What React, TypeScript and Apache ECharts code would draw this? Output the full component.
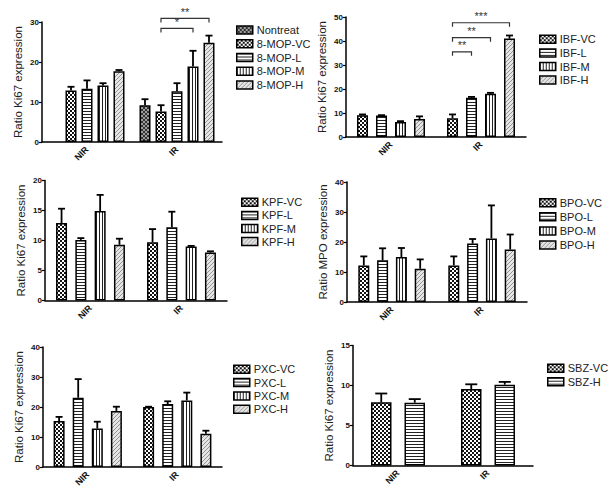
import React, { useEffect, useRef } from 'react';
import * as echarts from 'echarts';

const FONT = '"Liberation Sans", Arial, Helvetica, sans-serif';

const categories = ['NIR', 'IR'];

// Panel A: 8-MOP
const mopNames = ['Nontreat', '8-MOP-VC', '8-MOP-L', '8-MOP-M', '8-MOP-H'];
const mopPatterns = ['cross', 'checker', 'hline', 'vline', 'diag'];
const mopMeans = [[null, 9.2], [12.9, 7.6], [13.3, 12.7], [14.1, 18.9], [17.7, 24.8]];
const mopErrs = [[null, 1.5], [0.9, 1.6], [2.1, 2.0], [0.6, 3.9], [0.3, 1.8]];
// [category, from slot, to slot, y value]
const mopBrackets = [[1, 1, 3, 28.4], [1, 1, 4, 30.9]];
const mopStars = ['*', '**'];

// Panel B: IBF
const ibfNames = ['IBF-VC', 'IBF-L', 'IBF-M', 'IBF-H'];
const ibfPatterns = ['checker', 'hline', 'vline', 'diag'];
const ibfMeans = [[9.1, 7.8], [9.0, 16.4], [6.2, 18.0], [7.5, 41.0]];
const ibfErrs = [[0.3, 1.6], [0.1, 0.3], [0.4, 0.4], [1.1, 1.3]];
const ibfBrackets = [[1, 0, 1, 35.5], [1, 0, 2, 41.4], [1, 0, 3, 47.6]];
const ibfStars = ['**', '**', '***'];

// Panel C: KPF
const kpfNames = ['KPF-VC', 'KPF-L', 'KPF-M', 'KPF-H'];
const kpfPatterns = ['checker', 'hline', 'vline', 'diag'];
const kpfMeans = [[12.9, 9.7], [10.1, 12.2], [14.9, 9.0], [9.3, 8.0]];
const kpfErrs = [[2.4, 2.2], [0.3, 2.6], [2.7, 0.1], [1.0, 0.2]];

// Panel D: BPO
const bpoNames = ['BPO-VC', 'BPO-L', 'BPO-M', 'BPO-H'];
const bpoPatterns = ['checker', 'hline', 'vline', 'diag'];
const bpoMeans = [[12.2, 12.2], [13.9, 19.5], [15.0, 21.2], [11.1, 17.5]];
const bpoErrs = [[3.0, 3.0], [4.0, 1.5], [3.0, 11.0], [3.1, 5.0]];

// Panel E: PXC
const pxcNames = ['PXC-VC', 'PXC-L', 'PXC-M', 'PXC-H'];
const pxcPatterns = ['checker', 'hline', 'vline', 'diag'];
const pxcMeans = [[15.3, 20.0], [23.1, 21.0], [12.8, 22.2], [18.7, 11.1]];
const pxcErrs = [[1.4, 0.1], [6.2, 0.9], [2.3, 2.6], [1.4, 1.0]];

// Panel F: SBZ
const sbzNames = ['SBZ-VC', 'SBZ-H'];
const sbzPatterns = ['checker', 'hline'];
const sbzMeans = [[7.9, 9.55], [7.85, 10.1]];
const sbzErrs = [[1.1, 0.6], [0.45, 0.35]];

type Panel = {
  names: string[];
  patterns: string[];
  means: (number | null)[][];
  errs: (number | null)[][];
  brackets?: number[][];
  stars?: string[];
  yName: string;
  yMax: number;
  interval: number;
  grid: { left: number; top: number; width: number; height: number };
  barWidth: number;
  step: number;
  cap: number;
  legend: { left: number; top: number; gap: number };
};

const panels: Panel[] = [
  {
    names: mopNames, patterns: mopPatterns, means: mopMeans, errs: mopErrs,
    brackets: mopBrackets, stars: mopStars,
    yName: 'Ratio Ki67 expression', yMax: 30, interval: 10,
    grid: { left: 42, top: 22, width: 180, height: 120 },
    barWidth: 11, step: 16, cap: 3.5,
    legend: { left: 236, top: 24.5, gap: 2.75 },
  },
  {
    names: ibfNames, patterns: ibfPatterns, means: ibfMeans, errs: ibfErrs,
    brackets: ibfBrackets, stars: ibfStars,
    yName: 'Ratio Ki67 expression', yMax: 50, interval: 10,
    grid: { left: 346, top: 17, width: 180, height: 120 },
    barWidth: 11, step: 19, cap: 3.5,
    legend: { left: 539, top: 33.8, gap: 2.6 },
  },
  {
    names: kpfNames, patterns: kpfPatterns, means: kpfMeans, errs: kpfErrs,
    yName: 'Ratio Ki67 expression', yMax: 20, interval: 5,
    grid: { left: 45, top: 180.5, width: 182, height: 120 },
    barWidth: 11, step: 19.3, cap: 3.5,
    legend: { left: 241, top: 196.8, gap: 2.1 },
  },
  {
    names: bpoNames, patterns: bpoPatterns, means: bpoMeans, errs: bpoErrs,
    yName: 'Ratio MPO expression', yMax: 40, interval: 10,
    grid: { left: 347, top: 182, width: 180, height: 120 },
    barWidth: 11, step: 18.8, cap: 3.5,
    legend: { left: 539, top: 197.2, gap: 3.1 },
  },
  {
    names: pxcNames, patterns: pxcPatterns, means: pxcMeans, errs: pxcErrs,
    yName: 'Ratio Ki67 expression', yMax: 40, interval: 10,
    grid: { left: 43, top: 347, width: 179, height: 120 },
    barWidth: 11, step: 19.1, cap: 3.5,
    legend: { left: 233, top: 363.8, gap: 2.3 },
  },
  {
    names: sbzNames, patterns: sbzPatterns, means: sbzMeans, errs: sbzErrs,
    yName: 'Ratio Ki67 expression', yMax: 15, interval: 5,
    grid: { left: 353, top: 345.5, width: 180, height: 120 },
    barWidth: 20.5, step: 33.5, cap: 6,
    legend: { left: 547, top: 362.8, gap: 2.4 },
  },
];

function makePattern(kind: string): any {
  const s = kind === 'hline' || kind === 'vline' ? 3 : 4;
  const c = document.createElement('canvas');
  c.width = s;
  c.height = s;
  const g = c.getContext('2d')!;
  g.fillStyle = '#ffffff';
  g.fillRect(0, 0, s, s);
  if (kind === 'checker') {
    g.fillStyle = '#111111';
    g.fillRect(0, 0, 2, 2);
    g.fillRect(2, 2, 2, 2);
  } else if (kind === 'hline') {
    g.fillStyle = '#222222';
    g.fillRect(0, 0, s, 1);
  } else if (kind === 'vline') {
    g.fillStyle = '#222222';
    g.fillRect(0, 0, 1, s);
  } else if (kind === 'diag') {
    g.fillStyle = '#e6e6e6';
    g.fillRect(0, 0, s, s);
    g.fillStyle = '#939393';
    for (let i = 0; i < s; i++) g.fillRect(s - 1 - i, i, 1, 1);
  } else if (kind === 'cross') {
    g.fillStyle = '#9c9c9c';
    g.fillRect(0, 0, s, s);
    g.fillStyle = '#333333';
    for (let i = 0; i < s; i++) {
      g.fillRect(i, i, 1, 1);
      g.fillRect(s - 1 - i, i, 1, 1);
    }
  }
  return { image: c, repeat: 'repeat', imageWidth: s, imageHeight: s };
}

function buildOption() {
  const grids: any[] = [];
  const xAxes: any[] = [];
  const yAxes: any[] = [];
  const legends: any[] = [];
  const series: any[] = [];

  panels.forEach((p, pi) => {
    const n = p.names.length;
    grids.push({ ...p.grid, containLabel: false });
    xAxes.push({
      type: 'category',
      gridIndex: pi,
      data: categories,
      axisLine: { lineStyle: { color: '#000', width: 1.5 } },
      axisTick: { alignWithLabel: true, length: 3, lineStyle: { color: '#000', width: 1.2 } },
      axisLabel: { rotate: 45, fontSize: 9, fontWeight: 'bold', color: '#111', fontFamily: FONT, margin: 6 },
      splitLine: { show: false },
    });
    yAxes.push({
      type: 'value',
      gridIndex: pi,
      min: 0,
      max: p.yMax,
      interval: p.interval,
      name: p.yName,
      nameLocation: 'middle',
      nameGap: 18,
      nameTextStyle: { fontSize: 11.5, color: '#222', fontFamily: FONT },
      axisLine: { show: true, lineStyle: { color: '#000', width: 1.5 } },
      axisTick: { show: true, length: 3, lineStyle: { color: '#000', width: 1.2 } },
      axisLabel: { fontSize: 8, fontWeight: 'bold', color: '#111', fontFamily: FONT, margin: 3 },
      splitLine: { show: false },
    });
    legends.push({
      data: p.names,
      orient: 'vertical',
      left: p.legend.left,
      top: p.legend.top,
      padding: 0,
      itemGap: p.legend.gap,
      itemWidth: 16,
      itemHeight: 8,
      icon: 'rect',
      selectedMode: false,
      textStyle: { fontSize: 11, color: '#222', fontFamily: FONT, lineHeight: 11, padding: [0, 0, 0, -1] },
      itemStyle: { borderColor: '#000', borderWidth: 1.5 },
    });
    const gapPct = ((p.step - p.barWidth) / p.barWidth) * 100;
    p.names.forEach((name, si) => {
      series.push({
        type: 'bar',
        name,
        xAxisIndex: pi,
        yAxisIndex: pi,
        data: p.means[si],
        barWidth: p.barWidth,
        barGap: gapPct + '%',
        itemStyle: { color: makePattern(p.patterns[si]), borderColor: '#000', borderWidth: 1.5 },
        emphasis: { disabled: true },
        z: 2,
      });
    });
    const errData: number[][] = [];
    p.names.forEach((_, si) => {
      categories.forEach((_c, ci) => {
        const m = p.means[si][ci];
        const e = p.errs[si][ci];
        if (m != null && e != null) errData.push([ci, si, m, e]);
      });
    });
    const step = p.step;
    const cap = p.cap;
    series.push({
      type: 'custom',
      name: 'err' + pi,
      xAxisIndex: pi,
      yAxisIndex: pi,
      data: errData,
      encode: { x: 0, y: 2 },
      silent: true,
      z: 3,
      renderItem: (params: any, api: any) => {
        const cat = api.value(0);
        const slot = api.value(1);
        const m = api.value(2);
        const e = api.value(3);
        const p0 = api.coord([cat, m]);
        const p1 = api.coord([cat, m + e]);
        const x = p0[0] + (slot - (n - 1) / 2) * step;
        const st = { stroke: '#000', lineWidth: 1.8 };
        return {
          type: 'group',
          children: [
            { type: 'line', shape: { x1: x, y1: p0[1], x2: x, y2: p1[1] }, style: st },
            { type: 'line', shape: { x1: x - cap, y1: p1[1], x2: x + cap, y2: p1[1] }, style: st },
          ],
        };
      },
    });
    if (p.brackets) {
      const stars = p.stars || [];
      series.push({
        type: 'custom',
        name: 'sig' + pi,
        xAxisIndex: pi,
        yAxisIndex: pi,
        data: p.brackets,
        encode: { x: 0, y: 3 },
        silent: true,
        clip: false,
        z: 4,
        renderItem: (params: any, api: any) => {
          const cat = api.value(0);
          const a = api.value(1);
          const b = api.value(2);
          const yv = api.value(3);
          const c = api.coord([cat, yv]);
          const xa = c[0] + (a - (n - 1) / 2) * step;
          const xb = c[0] + (b - (n - 1) / 2) * step;
          const y = c[1];
          return {
            type: 'group',
            children: [
              {
                type: 'polyline',
                shape: { points: [[xa, y + 4], [xa, y], [xb, y], [xb, y + 4]] },
                style: { stroke: '#333', lineWidth: 1.2, fill: 'none' },
              },
              {
                type: 'text',
                x: (xa + xb) / 2,
                y: y - 1,
                style: {
                  text: stars[params.dataIndex],
                  fill: '#333',
                  fontSize: 11,
                  fontFamily: FONT,
                  align: 'center',
                  verticalAlign: 'bottom',
                },
              },
            ],
          };
        },
      });
    }
  });

  return {
    animation: false,
    backgroundColor: '#ffffff',
    grid: grids,
    xAxis: xAxes,
    yAxis: yAxes,
    legend: legends,
    series,
  };
}

export default function App() {
  const ref = useRef<HTMLDivElement>(null);
  useEffect(() => {
    document.body.style.margin = '0';
    if (!ref.current) return;
    const chart = echarts.init(ref.current, undefined, { renderer: 'svg' });
    chart.setOption(buildOption() as any);
    return () => {
      chart.dispose();
    };
  }, []);
  return (
    <div
      ref={ref}
      style={{ position: 'fixed', left: 0, top: 0, width: 614, height: 501, background: '#fff' }}
    />
  );
}
